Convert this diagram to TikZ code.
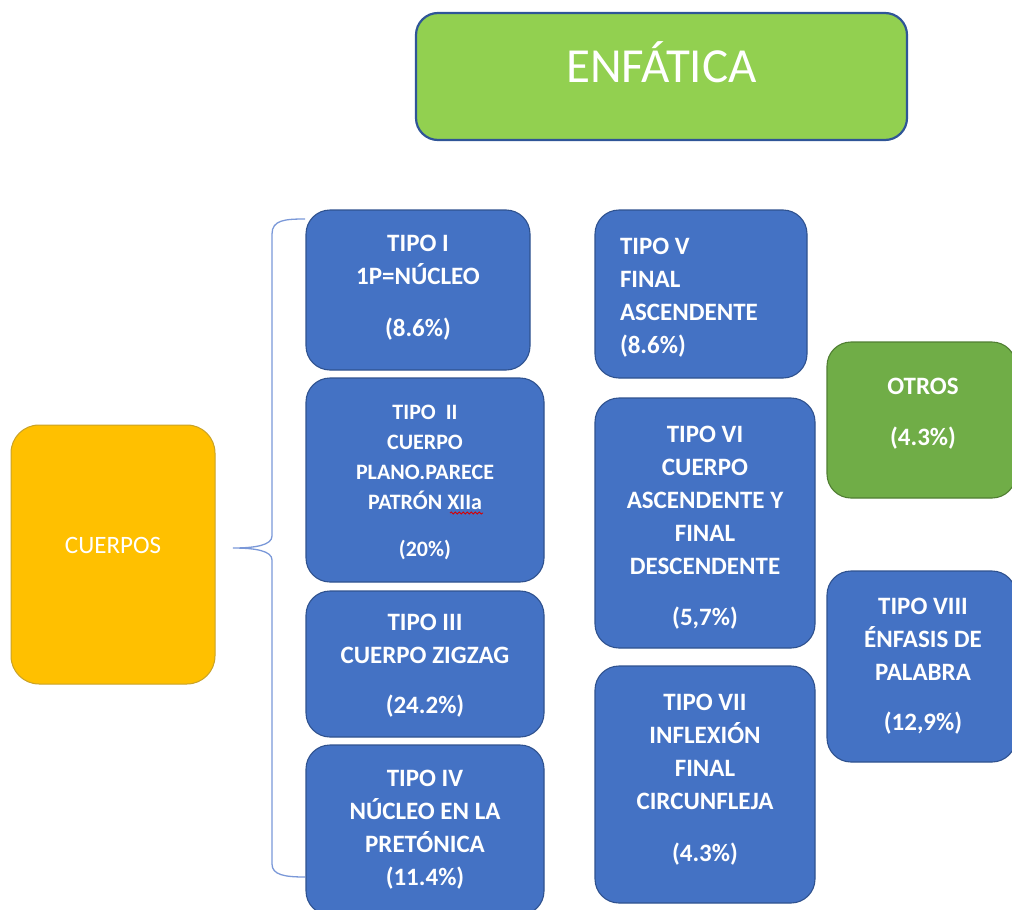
\documentclass[tikz,border=0pt]{standalone}
\usepackage{fontspec}
\setmainfont{Carlito}
\usetikzlibrary{decorations.pathmorphing}
\definecolor{bluefill}{HTML}{4472C4}
\definecolor{blueline}{HTML}{2F528F}
\definecolor{enffill}{HTML}{92D050}
\definecolor{enfline}{HTML}{2F5597}
\definecolor{orfill}{HTML}{FFC000}
\definecolor{orline}{HTML}{C9A227}
\definecolor{grfill}{HTML}{70AD47}
\definecolor{grline}{HTML}{507E32}
\definecolor{bracecol}{HTML}{7A98D8}
\begin{document}
\begin{tikzpicture}[x=1pt,y=-1pt,
  box/.style={draw=blueline, line width=1.1pt, fill=bluefill, rounded corners=24pt, inner sep=0pt},
  greenbox/.style={box, draw=grline, fill=grfill},
  txt/.style={text=white, font=\bfseries\fontsize{25}{33}\selectfont, align=center, inner sep=0pt},
  smalltxt/.style={txt, font=\bfseries\fontsize{22}{30}\selectfont},
  titlebox/.style={draw=enfline, line width=2.2pt, fill=enffill, rounded corners=22pt,
    text=white, font=\fontsize{49}{53}\selectfont, inner sep=0pt},
  mainbox/.style={draw=orline, line width=1pt, fill=orfill, rounded corners=28pt,
    text=white, font=\fontsize{25}{30}\selectfont, inner sep=0pt},
  braceline/.style={draw=bracecol, line width=1.3pt},
  squiggle/.style={draw=red!85!black, line width=0.8pt, decorate,
    decoration={snake, amplitude=1.1pt, segment length=4pt}}
]
\useasboundingbox (0,0) rectangle (1012,910);
\clip (0,0) rectangle (1012,910);

% title
\node[titlebox, minimum width=491, minimum height=127, text height=31pt, text depth=20pt]
  (enf) at (661.5,76.5) {ENFÁTICA};

% main
\node[mainbox, minimum width=204, minimum height=259, text height=10pt, text depth=13pt]
  (cuerpos) at (113,554.5) {CUERPOS};

% brace
\coordinate (bTop) at (305,219);
\coordinate (bMid) at (233,548);
\coordinate (bBot) at (305,877);
\draw[braceline] (bTop) .. controls (285,219) and (272,220) .. (272,234)
  -- (272,536) .. controls (272,545) and (256,548) .. (bMid)
  .. controls (256,548) and (272,551) .. (272,560)
  -- (272,864) .. controls (272,875) and (285,877) .. (bBot);

% column 1
\node[box, minimum width=224, minimum height=160] (t1) at (418,290) {};
\node[txt] (t1txt) at (418,288) {TIPO I\\1P=NÚCLEO\\[19pt](8.6\%)};
\node[box, minimum width=238, minimum height=204] (t2) at (425,480) {};
\node[smalltxt] (t2txt) at (425,482.5) {TIPO\ \ II\\CUERPO\\PLANO.PARECE\\PATRÓN XIIa\\[17pt](20\%)};
\node[box, minimum width=238, minimum height=146] (t3) at (425,664) {};
\node[txt] (t3txt) at (425,666) {TIPO III\\CUERPO ZIGZAG\\[17pt](24.2\%)};
\node[box, minimum width=238, minimum height=170] (t4) at (425,830) {};
\node[txt] (t4txt) at (425,830) {TIPO IV\\NÚCLEO EN LA\\PRETÓNICA\\(11.4\%)};

% column 2
\node[box, minimum width=212, minimum height=168] (t5) at (701,294) {};
\node[txt, align=flush left, text width=162pt] (t5txt) at (701,297.5) {TIPO V\\FINAL\\ASCENDENTE\\(8.6\%)};
\node[box, minimum width=220, minimum height=250] (t6) at (705,523) {};
\node[txt] (t6txt) at (705,528) {TIPO VI\\CUERPO\\ASCENDENTE Y\\FINAL\\DESCENDENTE\\[18pt](5,7\%)};
\node[box, minimum width=220, minimum height=237] (t7) at (705,784.5) {};
\node[txt] (t7txt) at (705,779.5) {TIPO VII\\INFLEXIÓN\\FINAL\\CIRCUNFLEJA\\[19pt](4.3\%)};

% column 3
\node[greenbox, minimum width=189, minimum height=156] (otros) at (921.5,420) {};
\node[txt] (otrostxt) at (923,413.5) {OTROS\\[18pt](4.3\%)};
\node[box, minimum width=189, minimum height=191] (t8) at (921.5,666.5) {};
\node[txt] (t8txt) at (923,666.5) {TIPO VIII\\ÉNFASIS DE\\PALABRA\\[17pt](12,9\%)};

% spell-check mark
\coordinate (sqA) at (450,513);
\coordinate (sqB) at (483,513);
\draw[squiggle] (sqA) -- (sqB);
\end{tikzpicture}
\end{document}
